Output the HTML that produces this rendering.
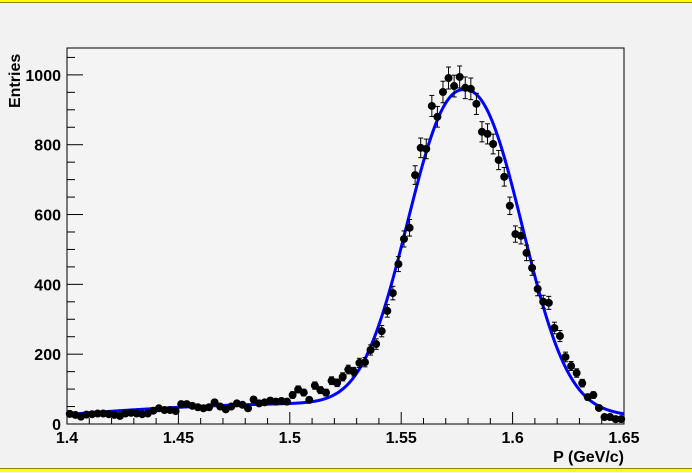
<!DOCTYPE html>
<html><head><meta charset="utf-8"><style>
html,body{margin:0;padding:0;background:#f2f2f2;}
svg{display:block;font-family:"Liberation Sans",Arial,sans-serif;font-weight:bold;}
</style></head><body>
<svg id="chart" width="692" height="473" viewBox="0 0 692 473">
<rect x="0" y="0" width="692" height="473" fill="#f2f2f2"/>
<rect x="0" y="0" width="692" height="2" fill="#ffff00"/>
<rect x="0" y="2" width="692" height="1" fill="#888800"/>
<rect x="0" y="469" width="692" height="3" fill="#ffff00"/>
<rect x="0" y="468" width="692" height="1" fill="#888800"/>
<rect x="67" y="48" width="557" height="376" fill="#f4f4f4" stroke="#000" stroke-width="1"/>
<g id="axes"></g>
<g id="fit"></g>
<g id="points"></g>
<text x="0" y="0" transform="translate(20,108) rotate(-90)" font-size="16">Entries</text>
<text x="624" y="462" font-size="16" text-anchor="end">P (GeV/c)</text>
</svg>
<script>
const counts = [29,26,21,27,28,30,30,28,26,23,30,32,30,28,30,38,45,40,40,37,57,57,52,48,45,48,62,50,42,50,59,55,45,70,59,62,67,64,66,64,83,99,90,69,110,97,90,124,118,135,156,150,175,
177,212,229,266,324,375,458,530,562,713,791,788,911,880,951,991,968,994,963,960,917,837,831,802,756,708,625,544,539,490,447,387,350,347,275,252,192,166,146,117,77,83,46,20,20,14,14];
const xMin = 1.4, xMax = 1.65, binWidth = 0.0025;
const yMin = 0, yMax = 1077;
const xTickLabels = ["1.4","1.45","1.5","1.55","1.6","1.65"];
const yTickLabels = ["0","200","400","600","800","1000"];
const peakParams = [905, 1.5786, 0.0334, 2.28];
const bgParams = [27, 520, -2100];

const L=67,R=624,T=48,B=424;
const ns="http://www.w3.org/2000/svg";
function X(v){return L+(v-xMin)/(xMax-xMin)*(R-L);}
function Y(v){return B-(v-yMin)/(yMax-yMin)*(B-T);}
function mk(tag,attrs,parent){const e=document.createElementNS(ns,tag);for(const k in attrs)e.setAttribute(k,attrs[k]);parent.appendChild(e);return e;}

const axes=document.getElementById('axes');
for(let i=0;i<=25;i++){
  const v=xMin+i*0.01, major=(i%5===0);
  const t=mk('line',{x1:X(v),x2:X(v),y1:B,y2:B-(major?12:6),stroke:'#000','stroke-width':1},axes);
  
  
}
xTickLabels.forEach(function(s){
  const tx=mk('text',{x:X(parseFloat(s)),y:443,'font-size':16,'text-anchor':'middle'},axes);
  tx.textContent=s;
  
  
});
for(let v=0;v<=1050;v+=50){
  const major=(v%200===0);
  const t=mk('line',{x1:L,x2:L+(major?16:8),y1:Y(v),y2:Y(v),stroke:'#000','stroke-width':1},axes);
  
  
}
yTickLabels.forEach(function(s){
  const tx=mk('text',{x:61,y:Y(parseFloat(s))+6,'font-size':16,'text-anchor':'end'},axes);
  tx.textContent=s;
  
  
});

function fitFn(x){
  const t=x-xMin;
  const bg=Math.max(0,bgParams[0]+bgParams[1]*t+bgParams[2]*t*t);
  const u=Math.abs(x-peakParams[1])/peakParams[2];
  const g=peakParams[0]*Math.exp(-Math.pow(u,peakParams[3]));
  return bg+g;
}
let d='';
for(let i=0;i<=400;i++){const x=xMin+(xMax-xMin)*i/400;d+=(i?'L':'M')+X(x).toFixed(2)+','+Y(fitFn(x)).toFixed(2);}
const fp=mk('path',{d:d,fill:'none',stroke:'#0000ff','stroke-width':3},document.getElementById('fit'));



const pg=document.getElementById('points');
counts.forEach(function(c,i){
  const xc=X(xMin+(i+0.5)*binWidth), e=Math.sqrt(c);
  const g=mk('g',{},pg);
  
  
  mk('line',{x1:xc,x2:xc,y1:Y(c+e),y2:Y(c-e),stroke:'#000','stroke-width':1},g);
  mk('line',{x1:xc-2.5,x2:xc+2.5,y1:Y(c+e),y2:Y(c+e),stroke:'#000','stroke-width':1},g);
  mk('line',{x1:xc-2.5,x2:xc+2.5,y1:Y(c-e),y2:Y(c-e),stroke:'#000','stroke-width':1},g);
  mk('circle',{cx:xc,cy:Y(c),r:4,fill:'#000'},g);
});
</script>
</body></html>
